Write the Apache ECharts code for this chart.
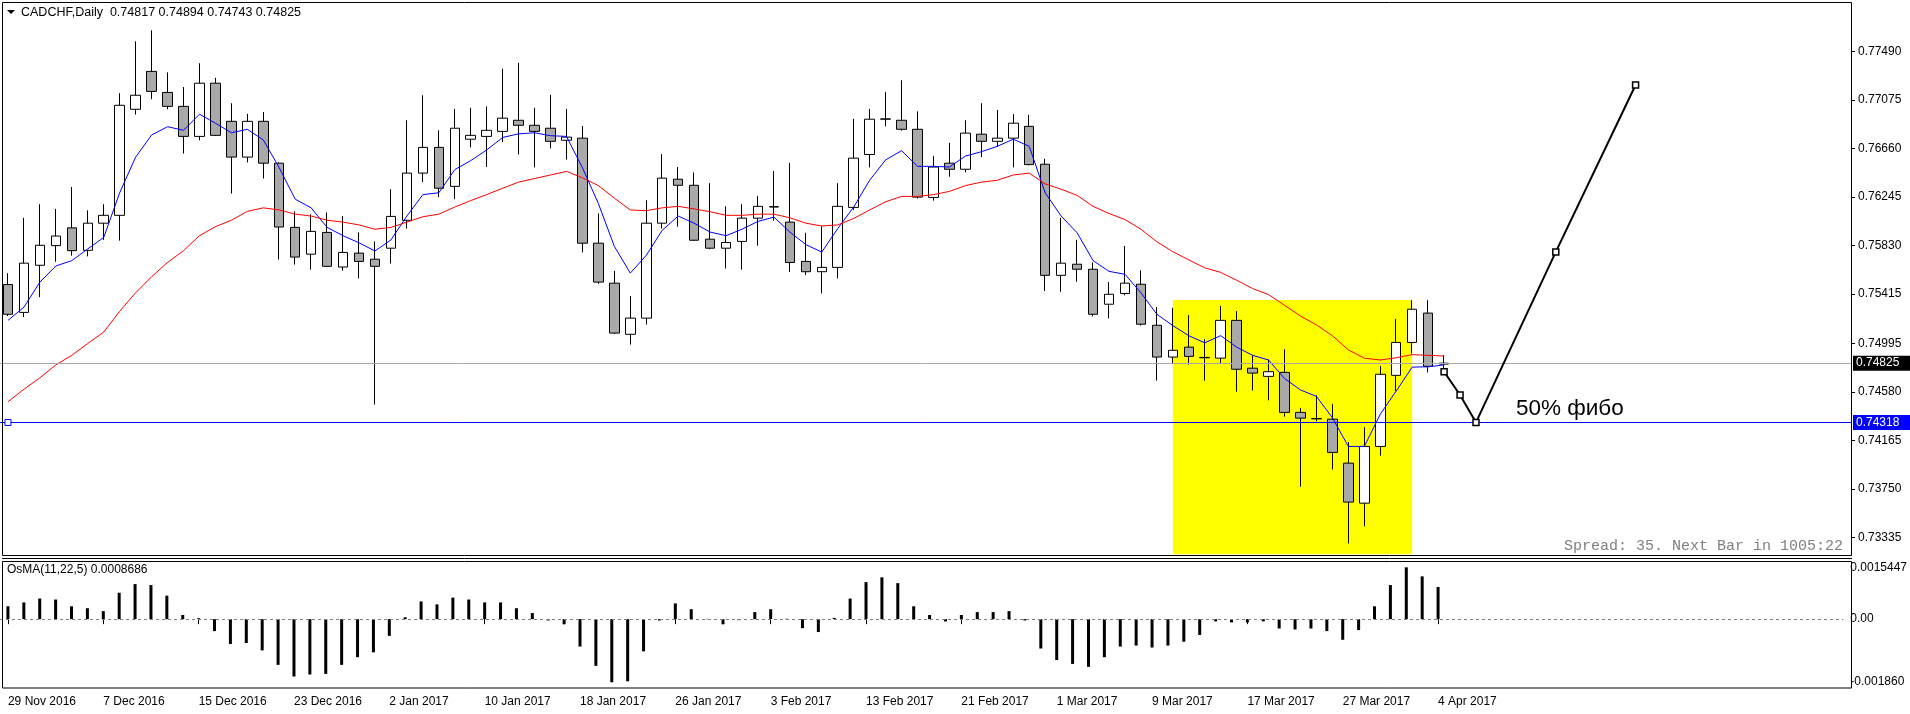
<!DOCTYPE html>
<html><head><meta charset="utf-8">
<script src="https://cdn.jsdelivr.net/npm/echarts@6/dist/echarts.min.js"></script>
<style>html,body{margin:0;padding:0;background:#fff;}#c{width:1910px;height:714px;}</style>
</head><body><div id="c"></div>
<script>
const dates = ['29 Nov 2016','30 Nov 2016','1 Dec 2016','2 Dec 2016','5 Dec 2016','6 Dec 2016','7 Dec 2016','8 Dec 2016','9 Dec 2016','12 Dec 2016','13 Dec 2016','14 Dec 2016','15 Dec 2016','16 Dec 2016','19 Dec 2016','20 Dec 2016','21 Dec 2016','22 Dec 2016','23 Dec 2016','26 Dec 2016','27 Dec 2016','28 Dec 2016','29 Dec 2016','30 Dec 2016','2 Jan 2017','3 Jan 2017','4 Jan 2017','5 Jan 2017','6 Jan 2017','9 Jan 2017','10 Jan 2017','11 Jan 2017','12 Jan 2017','13 Jan 2017','16 Jan 2017','17 Jan 2017','18 Jan 2017','19 Jan 2017','20 Jan 2017','23 Jan 2017','24 Jan 2017','25 Jan 2017','26 Jan 2017','27 Jan 2017','30 Jan 2017','31 Jan 2017','1 Feb 2017','2 Feb 2017','3 Feb 2017','6 Feb 2017','7 Feb 2017','8 Feb 2017','9 Feb 2017','10 Feb 2017','13 Feb 2017','14 Feb 2017','15 Feb 2017','16 Feb 2017','17 Feb 2017','20 Feb 2017','21 Feb 2017','22 Feb 2017','23 Feb 2017','24 Feb 2017','27 Feb 2017','28 Feb 2017','1 Mar 2017','2 Mar 2017','3 Mar 2017','6 Mar 2017','7 Mar 2017','8 Mar 2017','9 Mar 2017','10 Mar 2017','13 Mar 2017','14 Mar 2017','15 Mar 2017','16 Mar 2017','17 Mar 2017','20 Mar 2017','21 Mar 2017','22 Mar 2017','23 Mar 2017','24 Mar 2017','27 Mar 2017','28 Mar 2017','29 Mar 2017','30 Mar 2017','31 Mar 2017','3 Apr 2017','4 Apr 2017'];
const futureDates = ['5 Apr 2017','6 Apr 2017','7 Apr 2017','10 Apr 2017','11 Apr 2017','12 Apr 2017','13 Apr 2017','14 Apr 2017','17 Apr 2017','18 Apr 2017','19 Apr 2017','20 Apr 2017','21 Apr 2017','24 Apr 2017','25 Apr 2017','26 Apr 2017','27 Apr 2017','28 Apr 2017','1 May 2017','2 May 2017','3 May 2017','4 May 2017','5 May 2017','8 May 2017','9 May 2017'];

const openP = [0.75497,0.75259,0.75662,0.75830,0.75982,0.75790,0.76022,0.76089,0.76996,0.77320,
0.77140,0.77021,0.76764,0.77219,0.76893,0.76587,0.76893,0.76535,0.75986,0.75757,
0.75943,0.75647,0.75766,0.75714,0.75808,0.76047,0.76450,0.76670,0.76337,0.76740,
0.76764,0.76807,0.76902,0.76859,0.76834,0.76731,0.76749,0.75851,0.75509,0.75072,
0.75210,0.76022,0.76398,0.76346,0.75885,0.75808,0.75866,0.76065,0.76160,0.76031,
0.75695,0.75607,0.75644,0.76157,0.76609,0.76911,0.76902,0.76825,0.76242,0.76535,
0.76483,0.76783,0.76722,0.76749,0.76850,0.76526,0.75576,0.75671,0.75628,0.75329,
0.75421,0.75500,0.75149,0.74877,0.74962,0.74874,0.74868,0.75191,0.74782,0.74712,
0.74746,0.74404,0.74351,0.74346,0.73970,0.73628,0.74113,0.74721,0.75002,0.75253,
0.74817];
const highP = [0.75595,0.76068,0.76184,0.76144,0.76331,0.76132,0.76184,0.77134,0.77577,0.77671,
0.77311,0.77186,0.77390,0.77265,0.77048,0.76957,0.76972,0.76541,0.76123,0.76099,
0.76114,0.76083,0.75943,0.75866,0.76312,0.76902,0.77116,0.76816,0.76999,0.77009,
0.77021,0.77342,0.77393,0.77009,0.77119,0.76999,0.76853,0.76105,0.75613,0.75399,
0.76218,0.76612,0.76502,0.76456,0.76364,0.76166,0.76184,0.76254,0.76468,0.76538,
0.75940,0.75995,0.76364,0.76914,0.76999,0.77143,0.77244,0.76978,0.76596,0.76709,
0.76902,0.77048,0.76990,0.76954,0.76948,0.76572,0.76068,0.75879,0.75686,0.75518,
0.75827,0.75619,0.75305,0.75298,0.75237,0.75030,0.75314,0.75271,0.74892,0.74856,
0.74944,0.74443,0.74550,0.74477,0.74150,0.74278,0.74801,0.75204,0.75363,0.75363,
0.74894];
const lowP = [0.75228,0.75219,0.75390,0.75692,0.75744,0.75738,0.75879,0.75873,0.76951,0.77082,
0.76996,0.76618,0.76731,0.76767,0.76276,0.76541,0.76404,0.75711,0.75668,0.75625,
0.75647,0.75616,0.75549,0.74471,0.75677,0.75976,0.76373,0.76245,0.76227,0.76670,
0.76502,0.76715,0.76609,0.76499,0.76661,0.76566,0.75772,0.75503,0.75075,0.74984,
0.75155,0.75976,0.75992,0.75870,0.75799,0.75634,0.75625,0.75830,0.76044,0.75604,
0.75579,0.75421,0.75549,0.76135,0.76499,0.76850,0.76813,0.76233,0.76215,0.76419,
0.76456,0.76587,0.76676,0.76499,0.76517,0.75442,0.75436,0.75521,0.75225,0.75207,
0.75405,0.75146,0.74675,0.74822,0.74813,0.74675,0.74822,0.74581,0.74590,0.74507,
0.74367,0.73768,0.74327,0.73915,0.73283,0.73429,0.74034,0.74587,0.74907,0.74746,
0.74743];
const closeP = [0.75243,0.75680,0.75833,0.75912,0.75787,0.76022,0.76089,0.77030,0.77116,0.77149,
0.77021,0.76764,0.77219,0.76773,0.76587,0.76893,0.76535,0.75989,0.75732,0.75952,
0.75653,0.75772,0.75695,0.75653,0.76080,0.76450,0.76670,0.76321,0.76834,0.76773,
0.76816,0.76920,0.76859,0.76807,0.76722,0.76758,0.75851,0.75518,0.75082,0.75210,
0.76022,0.76407,0.76346,0.75876,0.75808,0.75857,0.76065,0.76166,0.76163,0.75686,
0.75607,0.75644,0.76166,0.76578,0.76911,0.76914,0.76825,0.76245,0.76502,0.76483,
0.76792,0.76722,0.76749,0.76877,0.76523,0.75576,0.75680,0.75628,0.75243,0.75414,
0.75509,0.75158,0.74877,0.74935,0.74883,0.74871,0.75191,0.74773,0.74740,0.74752,
0.74404,0.74355,0.74349,0.74062,0.73637,0.74113,0.74730,0.75002,0.75286,0.74798,
0.74825];

const maFast = [0.75191,0.75304,0.75518,0.75656,0.75702,0.75802,0.75900,0.76282,0.76587,0.76776,
0.76847,0.76816,0.76954,0.76877,0.76795,0.76825,0.76734,0.76496,0.76227,0.76153,
0.75986,0.75915,0.75854,0.75784,0.75879,0.76083,0.76266,0.76282,0.76480,0.76557,
0.76648,0.76755,0.76786,0.76795,0.76770,0.76764,0.76496,0.76190,0.75824,0.75595,
0.75747,0.75961,0.76083,0.76022,0.75946,0.75915,0.75970,0.76037,0.76074,0.75946,
0.75839,0.75775,0.75976,0.76160,0.76389,0.76563,0.76642,0.76508,0.76508,0.76502,
0.76596,0.76633,0.76679,0.76740,0.76679,0.76282,0.76083,0.75940,0.75702,0.75610,
0.75585,0.75427,0.75243,0.75146,0.75060,0.74999,0.75060,0.74962,0.74892,0.74852,
0.74694,0.74596,0.74541,0.74358,0.74113,0.74113,0.74388,0.74587,0.74791,0.74794,0.74810];
const maSlow = [0.74495,0.74602,0.74700,0.74810,0.74892,0.74993,0.75091,0.75268,0.75427,0.75564,
0.75686,0.75787,0.75915,0.75992,0.76047,0.76123,0.76153,0.76135,0.76099,0.76083,
0.76047,0.76031,0.76007,0.75970,0.75986,0.76031,0.76077,0.76099,0.76160,0.76215,
0.76266,0.76321,0.76373,0.76404,0.76434,0.76465,0.76410,0.76343,0.76236,0.76135,
0.76129,0.76153,0.76166,0.76144,0.76120,0.76089,0.76089,0.76099,0.76099,0.76068,
0.76022,0.75998,0.76007,0.76062,0.76135,0.76205,0.76251,0.76251,0.76266,0.76294,
0.76343,0.76373,0.76389,0.76434,0.76450,0.76358,0.76312,0.76260,0.76166,0.76105,
0.76053,0.75970,0.75863,0.75778,0.75708,0.75640,0.75601,0.75534,0.75463,0.75411,
0.75320,0.75228,0.75152,0.75060,0.74938,0.74868,0.74852,0.74871,0.74898,0.74892,0.74886];

const osma = [0.000348,0.000452,0.000557,0.000531,0.000348,0.000296,0.000218,0.000713,0.000948,0.000922,
0.000635,0.000113,0.000026,-0.000322,-0.000670,-0.000644,-0.000844,-0.001235,-0.001549,-0.001496,
-0.001479,-0.001235,-0.001027,-0.000896,-0.000452,0.000052,0.000479,0.000400,0.000583,0.000531,
0.000452,0.000452,0.000296,0.000165,-0.000035,-0.000139,-0.000740,-0.001262,-0.001705,-0.001679,
-0.000870,-0.000035,0.000426,0.000270,0.000009,-0.000139,-0.000026,0.000191,0.000270,0.000009,
-0.000244,-0.000348,0.000035,0.000557,0.001001,0.001131,0.000974,0.000348,0.000113,-0.000061,
0.000113,0.000191,0.000191,0.000218,-0.000035,-0.000792,-0.001105,-0.001209,-0.001288,-0.001027,
-0.000740,-0.000713,-0.000766,-0.000713,-0.000609,-0.000426,-0.000061,-0.000087,-0.000087,-0.000061,
-0.000252,-0.000278,-0.000252,-0.000322,-0.000557,-0.000296,0.000348,0.000922,0.001401,0.001157,0.000870];

const forecastIdx = [90, 91, 92, 97, 102];
const forecastVal = [0.74752, 0.74553, 0.74318, 0.75776, 0.77204];

const priceTicks = [0.77490,0.77075,0.76660,0.76245,0.75830,0.75415,0.74995,0.74580,0.74165,0.73750,0.73335];
const osmaTicks = [-0.00186, 0, 0.0015447];
const osmaTickLabels = ['-0.001860', '0.00', '0.0015447'];
const bidPrice = 0.74825;
const levelPrice = 0.74318;
const zoneFrom = 73, zoneTo = 88, zoneTop = 0.75366, zoneBottom = 0.7319;
const priceMin = 0.73176, priceMax = 0.77909;
const osmaMin = -0.00186, osmaMax = 0.0015447;

const cats = dates.concat(futureDates);
const candleData = openP.map((o, i) => [o, closeP[i], lowP[i], highP[i]]);
const forecastData = forecastIdx.map((x, i) => [x, forecastVal[i]]);
const showLabel = (idx) => idx % 6 === 0 && idx < dates.length;

const FONT = "'Liberation Sans', Arial, sans-serif";
const gridL = -4.7, gridR = 59;

const chart = echarts.init(document.getElementById('c'), null, {renderer: 'canvas'});
chart.setOption({
  animation: false,
  backgroundColor: '#ffffff',
  textStyle: {fontFamily: FONT},
  grid: [
    {left: gridL, right: gridR, top: 2.5, bottom: 158},
    {left: gridL, right: gridR, top: 562, bottom: 26}
  ],
  xAxis: [
    {type: 'category', gridIndex: 0, data: cats, boundaryGap: true,
     axisLine: {show: false}, axisTick: {show: false}, axisLabel: {show: false}, splitLine: {show: false}},
    {type: 'category', gridIndex: 1, data: cats, boundaryGap: true,
     axisLine: {show: false},
     axisTick: {show: true, interval: showLabel, alignWithLabel: true, length: 5, lineStyle: {color: '#000', width: 1}},
     axisLabel: {interval: showLabel, align: 'left', margin: 8, fontFamily: FONT, fontSize: 12, color: '#000'},
     splitLine: {show: false}}
  ],
  yAxis: [
    {type: 'value', gridIndex: 0, position: 'right', min: priceMin, max: priceMax,
     axisLine: {show: false}, splitLine: {show: false},
     axisTick: {show: true, customValues: priceTicks, length: 4, lineStyle: {color: '#000'}},
     axisLabel: {customValues: priceTicks, formatter: v => v.toFixed(5), margin: 7, fontFamily: FONT, fontSize: 12, color: '#000'}},
    {type: 'value', gridIndex: 1, position: 'right', min: osmaMin, max: osmaMax,
     axisLine: {show: false}, splitLine: {show: false},
     axisTick: {show: false},
     axisLabel: {customValues: osmaTicks, formatter: v => osmaTickLabels[osmaTicks.indexOf(v)] || '',
       margin: 7, fontFamily: FONT, fontSize: 12, color: '#000',
       verticalAlignMaxLabel: 'top', verticalAlignMinLabel: 'bottom'}}
  ],
  series: [
    {name: 'zone', type: 'line', xAxisIndex: 0, yAxisIndex: 0, data: [], z: 1, silent: true,
     markArea: {silent: true, itemStyle: {color: '#ffff00', opacity: 1},
       data: [[{coord: [zoneFrom, zoneTop]}, {coord: [zoneTo, zoneBottom]}]]}},
    {name: 'levels', type: 'line', xAxisIndex: 0, yAxisIndex: 0, data: [], z: 2, silent: true,
     markLine: {silent: true, symbol: ['none', 'none'], precision: 5, animation: false,
       data: [
         {yAxis: bidPrice, lineStyle: {color: '#a8a8a8', width: 1, type: 'solid'},
          label: {show: true, position: 'end', distance: 2, formatter: bidPrice.toFixed(5),
            color: '#fff', backgroundColor: '#000', padding: [2, 12, 1, 3], fontFamily: FONT, fontSize: 12}},
         {yAxis: levelPrice, lineStyle: {color: '#0000ff', width: 1, type: 'solid'},
          label: {show: true, position: 'end', distance: 2, formatter: levelPrice.toFixed(5),
            color: '#fff', backgroundColor: '#0000ff', padding: [2, 12, 1, 3], fontFamily: FONT, fontSize: 12}}
       ]},
     markPoint: {silent: true, symbol: 'rect', symbolSize: 6,
       itemStyle: {color: '#fff', borderColor: '#0000ff', borderWidth: 1},
       label: {show: false},
       data: [{coord: [0, levelPrice]}]}},
    {name: 'CADCHF', type: 'candlestick', xAxisIndex: 0, yAxisIndex: 0, data: candleData, z: 3,
     barWidth: 10,
     itemStyle: {color: '#ffffff', color0: '#a9a9a9', borderColor: '#000000', borderColor0: '#000000', borderWidth: 1}},
    {name: 'MA fast', type: 'line', xAxisIndex: 0, yAxisIndex: 0, data: maFast, z: 4,
     symbol: 'none', lineStyle: {color: '#0000ff', width: 1}},
    {name: 'MA slow', type: 'line', xAxisIndex: 0, yAxisIndex: 0, data: maSlow, z: 4,
     symbol: 'none', lineStyle: {color: '#ff0000', width: 1}},
    {name: 'forecast', type: 'line', xAxisIndex: 0, yAxisIndex: 0, data: forecastData, z: 5,
     symbol: 'rect', symbolSize: 6, showAllSymbol: true,
     lineStyle: {color: '#000', width: 2}, itemStyle: {color: '#fff', borderColor: '#000', borderWidth: 1.5}},
    {name: 'OsMA', type: 'bar', xAxisIndex: 1, yAxisIndex: 1, data: osma, barWidth: 3, z: 3,
     itemStyle: {color: '#000'},
     markLine: {silent: true, symbol: ['none', 'none'], precision: 5, label: {show: false},
       lineStyle: {color: '#808080', width: 1, type: [3, 3]},
       data: [{yAxis: 0}]}}
  ],
  graphic: [
    {type: 'rect', z: 100, silent: true, shape: {x: 2.5, y: 2.5, width: 1849, height: 553}, style: {fill: 'none', stroke: '#000', lineWidth: 1}},
    {type: 'line', z: 100, silent: true, shape: {x1: 2, y1: 558.5, x2: 1852, y2: 558.5}, style: {stroke: '#000', lineWidth: 1}},
    {type: 'rect', z: 100, silent: true, shape: {x: 2.5, y: 561.5, width: 1849, height: 126.5}, style: {fill: 'none', stroke: '#000', lineWidth: 1}},
    {type: 'polygon', z: 100, silent: true, shape: {points: [[7, 10], [15, 10], [11, 14]]}, style: {fill: '#000'}},
    {type: 'text', z: 100, silent: true, x: 21, y: 12.5,
     style: {text: 'CADCHF,Daily  ' + [openP[90], highP[90], lowP[90], closeP[90]].map(v => v.toFixed(5)).join(' '),
       font: '12.5px ' + FONT, fill: '#000', verticalAlign: 'middle'}},
    {type: 'text', z: 100, silent: true, x: 7, y: 570,
     style: {text: 'OsMA(11,22,5) 0.0008686', font: '12px ' + FONT, fill: '#000', verticalAlign: 'middle'}},
    {type: 'text', z: 100, silent: true, x: 1843, y: 546,
     style: {text: 'Spread: 35. Next Bar in 1005:22', font: "15px 'Liberation Mono', 'Courier New', monospace", fill: '#808080', align: 'right', verticalAlign: 'middle'}},
    {type: 'text', z: 100, silent: true, x: 1516, y: 409,
     style: {text: '50% фибо', font: '22.5px ' + FONT, fill: '#000', verticalAlign: 'middle'}}
  ]
});
</script>
</body></html>
